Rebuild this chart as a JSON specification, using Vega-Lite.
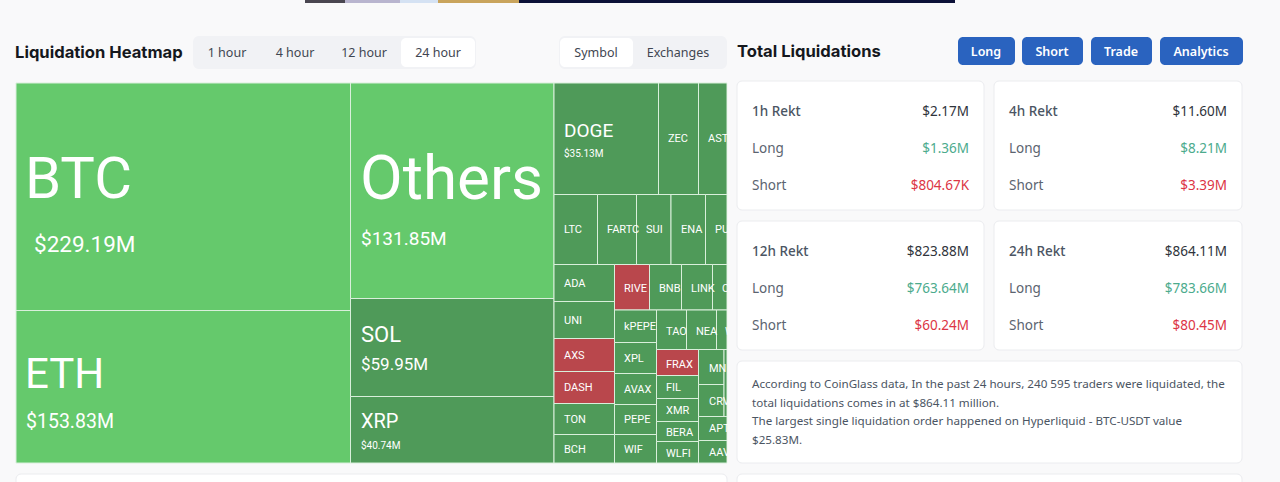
{
  "$schema": "https://vega.github.io/schema/vega-lite/v6.json",
  "width": 1280,
  "height": 482,
  "autosize": {"type": "fit", "contains": "padding"},
  "padding": 0,
  "background": "#f9f9fa",
  "config": {"view": {"stroke": null}},
  "datasets": {
    "banner": [
      {"part": "photo", "x0": 305, "x1": 345},
      {"part": "sky", "x0": 345, "x1": 400},
      {"part": "ice", "x0": 400, "x1": 438},
      {"part": "gold", "x0": 438, "x1": 519},
      {"part": "navy", "x0": 519, "x1": 955}
    ],
    "panels": [
      {"panel": "heatmap footer", "x0": 16, "x1": 727, "y0": 474, "y1": 500},
      {"panel": "1h", "x0": 737, "x1": 984, "y0": 81, "y1": 210},
      {"panel": "4h", "x0": 994, "x1": 1242, "y0": 81, "y1": 210},
      {"panel": "12h", "x0": 737, "x1": 984, "y0": 221, "y1": 350},
      {"panel": "24h", "x0": 994, "x1": 1242, "y0": 221, "y1": 350},
      {"panel": "summary", "x0": 737, "x1": 1242, "y0": 361, "y1": 463},
      {"panel": "next", "x0": 737, "x1": 1242, "y0": 474, "y1": 500}
    ],
    "tabgroups": [
      {"group": "period", "x0": 193, "x1": 476, "y0": 36, "y1": 69},
      {"group": "view", "x0": 559, "x1": 727, "y0": 36, "y1": 69}
    ],
    "activetabs": [
      {"tab": "24 hour", "x0": 401, "x1": 475, "y0": 38, "y1": 67},
      {"tab": "Symbol", "x0": 560, "x1": 633, "y0": 38, "y1": 67}
    ],
    "tablabels": [
      {"text": "1 hour", "x": 227, "y": 52},
      {"text": "4 hour", "x": 295, "y": 52},
      {"text": "12 hour", "x": 364, "y": 52},
      {"text": "24 hour", "x": 438, "y": 52},
      {"text": "Symbol", "x": 596, "y": 52},
      {"text": "Exchanges", "x": 678, "y": 52}
    ],
    "buttons": [
      {"text": "Long", "x0": 958, "x1": 1015, "y0": 37, "y1": 65, "x": 986, "y": 51},
      {"text": "Short", "x0": 1022, "x1": 1083, "y0": 37, "y1": 65, "x": 1052, "y": 51},
      {"text": "Trade", "x0": 1091, "x1": 1152, "y0": 37, "y1": 65, "x": 1121, "y": 51},
      {"text": "Analytics", "x0": 1160, "x1": 1243, "y0": 37, "y1": 65, "x": 1201, "y": 51}
    ],
    "titles": [
      {"text": "Liquidation Heatmap", "x": 15, "y": 52},
      {"text": "Total Liquidations", "x": 737, "y": 51}
    ],
    "cells": [
      {"symbol": "BTC", "band": "top", "x0": 16, "x1": 350.5, "y0": 83, "y1": 310.5},
      {"symbol": "ETH", "band": "top", "x0": 16, "x1": 350.5, "y0": 310.5, "y1": 463},
      {"symbol": "Others", "band": "top", "x0": 350.5, "x1": 554, "y0": 83, "y1": 298.5},
      {"symbol": "SOL", "band": "long", "x0": 350.5, "x1": 554, "y0": 298.5, "y1": 396.5},
      {"symbol": "XRP", "band": "long", "x0": 350.5, "x1": 554, "y0": 396.5, "y1": 463},
      {"symbol": "DOGE", "band": "long", "x0": 554, "x1": 658.5, "y0": 83, "y1": 194.5},
      {"symbol": "ZEC", "band": "long", "x0": 658.5, "x1": 698.5, "y0": 83, "y1": 194.5},
      {"symbol": "AST", "band": "long", "x0": 698.5, "x1": 727, "y0": 83, "y1": 194.5},
      {"symbol": "LTC", "band": "long", "x0": 554, "x1": 597.5, "y0": 194.5, "y1": 264.5},
      {"symbol": "FARTCOIN", "band": "long", "x0": 597.5, "x1": 636.5, "y0": 194.5, "y1": 264.5},
      {"symbol": "SUI", "band": "long", "x0": 636.5, "x1": 671, "y0": 194.5, "y1": 264.5},
      {"symbol": "ENA", "band": "long", "x0": 671, "x1": 705.5, "y0": 194.5, "y1": 264.5},
      {"symbol": "PUMP", "band": "long", "x0": 705.5, "x1": 727, "y0": 194.5, "y1": 264.5},
      {"symbol": "ADA", "band": "long", "x0": 554, "x1": 614.5, "y0": 264.5, "y1": 301.5},
      {"symbol": "UNI", "band": "long", "x0": 554, "x1": 614.5, "y0": 301.5, "y1": 338.5},
      {"symbol": "AXS", "band": "short", "x0": 554, "x1": 614.5, "y0": 338.5, "y1": 371.5},
      {"symbol": "DASH", "band": "short", "x0": 554, "x1": 614.5, "y0": 371.5, "y1": 403.5},
      {"symbol": "TON", "band": "long", "x0": 554, "x1": 614.5, "y0": 403.5, "y1": 434.5},
      {"symbol": "BCH", "band": "long", "x0": 554, "x1": 614.5, "y0": 434.5, "y1": 463},
      {"symbol": "RIVER", "band": "short", "x0": 614.5, "x1": 649.5, "y0": 264.5, "y1": 310},
      {"symbol": "BNB", "band": "long", "x0": 649.5, "x1": 681.5, "y0": 264.5, "y1": 310},
      {"symbol": "LINK", "band": "long", "x0": 681.5, "x1": 712.5, "y0": 264.5, "y1": 310},
      {"symbol": "C", "band": "long", "x0": 712.5, "x1": 727, "y0": 264.5, "y1": 310},
      {"symbol": "kPEPE", "band": "long", "x0": 614.5, "x1": 656.5, "y0": 310, "y1": 342.5},
      {"symbol": "XPL", "band": "long", "x0": 614.5, "x1": 656.5, "y0": 342.5, "y1": 373.5},
      {"symbol": "AVAX", "band": "long", "x0": 614.5, "x1": 656.5, "y0": 373.5, "y1": 404.5},
      {"symbol": "PEPE", "band": "long", "x0": 614.5, "x1": 656.5, "y0": 404.5, "y1": 434.5},
      {"symbol": "WIF", "band": "long", "x0": 614.5, "x1": 656.5, "y0": 434.5, "y1": 463},
      {"symbol": "TAO", "band": "long", "x0": 656.5, "x1": 686.5, "y0": 310, "y1": 349.5},
      {"symbol": "NEAR", "band": "long", "x0": 686.5, "x1": 716.5, "y0": 310, "y1": 349.5},
      {"symbol": "W", "band": "long", "x0": 716.5, "x1": 727, "y0": 310, "y1": 349.5},
      {"symbol": "FRAX", "band": "short", "x0": 656.5, "x1": 698.5, "y0": 349.5, "y1": 375.5},
      {"symbol": "FIL", "band": "long", "x0": 656.5, "x1": 698.5, "y0": 375.5, "y1": 398.5},
      {"symbol": "XMR", "band": "long", "x0": 656.5, "x1": 698.5, "y0": 398.5, "y1": 421.5},
      {"symbol": "BERA", "band": "long", "x0": 656.5, "x1": 698.5, "y0": 421.5, "y1": 441.5},
      {"symbol": "WLFI", "band": "long", "x0": 656.5, "x1": 698.5, "y0": 441.5, "y1": 463},
      {"symbol": "MNT", "band": "long", "x0": 698.5, "x1": 724, "y0": 349.5, "y1": 384.5},
      {"symbol": "CRV", "band": "long", "x0": 698.5, "x1": 724, "y0": 384.5, "y1": 416.5},
      {"symbol": "rest", "band": "long", "x0": 724, "x1": 727, "y0": 349.5, "y1": 416.5},
      {"symbol": "APT", "band": "long", "x0": 698.5, "x1": 727, "y0": 416.5, "y1": 440.5},
      {"symbol": "AAVE", "band": "long", "x0": 698.5, "x1": 727, "y0": 440.5, "y1": 463}
    ],
    "labels": [
      {"text": "BTC", "tier": "a", "x": 25, "y": 180},
      {"text": "$229.19M", "tier": "c", "x": 34, "y": 244},
      {"text": "ETH", "tier": "b", "x": 25, "y": 374},
      {"text": "$153.83M", "tier": "d", "x": 26, "y": 421},
      {"text": "Others", "tier": "o", "x": 360, "y": 179},
      {"text": "$131.85M", "tier": "g", "x": 361, "y": 238},
      {"text": "SOL", "tier": "e", "x": 361, "y": 334},
      {"text": "$59.95M", "tier": "h", "x": 361, "y": 364},
      {"text": "XRP", "tier": "f", "x": 361, "y": 421},
      {"text": "$40.74M", "tier": "k", "x": 361, "y": 445},
      {"text": "DOGE", "tier": "g", "x": 564, "y": 130},
      {"text": "$35.13M", "tier": "k", "x": 564, "y": 153},
      {"text": "ZEC", "tier": "m", "x": 668, "y": 138},
      {"text": "AST", "tier": "m", "x": 708, "y": 138},
      {"text": "LTC", "tier": "m", "x": 564, "y": 229},
      {"text": "FARTC", "tier": "m", "x": 607, "y": 229},
      {"text": "SUI", "tier": "m", "x": 646, "y": 229},
      {"text": "ENA", "tier": "m", "x": 681, "y": 229},
      {"text": "PU", "tier": "m", "x": 715, "y": 229},
      {"text": "ADA", "tier": "m", "x": 564, "y": 283},
      {"text": "UNI", "tier": "m", "x": 564, "y": 320},
      {"text": "AXS", "tier": "m", "x": 564, "y": 355},
      {"text": "DASH", "tier": "m", "x": 564, "y": 387},
      {"text": "TON", "tier": "m", "x": 564, "y": 419},
      {"text": "BCH", "tier": "m", "x": 564, "y": 449},
      {"text": "RIVE", "tier": "m", "x": 624, "y": 288},
      {"text": "BNB", "tier": "m", "x": 659, "y": 288},
      {"text": "LINK", "tier": "m", "x": 691, "y": 288},
      {"text": "C", "tier": "m", "x": 722, "y": 288},
      {"text": "kPEPE", "tier": "m", "x": 624, "y": 326},
      {"text": "XPL", "tier": "m", "x": 624, "y": 358},
      {"text": "AVAX", "tier": "m", "x": 624, "y": 389},
      {"text": "PEPE", "tier": "m", "x": 624, "y": 419},
      {"text": "WIF", "tier": "m", "x": 624, "y": 449},
      {"text": "TAO", "tier": "m", "x": 666, "y": 331},
      {"text": "NEA", "tier": "m", "x": 696, "y": 331},
      {"text": "W", "tier": "m", "x": 725, "y": 331},
      {"text": "FRAX", "tier": "m", "x": 666, "y": 364},
      {"text": "FIL", "tier": "m", "x": 666, "y": 387},
      {"text": "XMR", "tier": "m", "x": 666, "y": 410},
      {"text": "BERA", "tier": "m", "x": 666, "y": 432},
      {"text": "WLFI", "tier": "m", "x": 666, "y": 453},
      {"text": "MN", "tier": "m", "x": 709, "y": 368},
      {"text": "CRV", "tier": "m", "x": 709, "y": 401},
      {"text": "APT", "tier": "m", "x": 709, "y": 428},
      {"text": "AAV", "tier": "m", "x": 709, "y": 452}
    ],
    "gutter": [
      {"x0": 727.5, "x1": 736, "y0": 83, "y1": 463}
    ],
    "heads": [
      {"text": "1h Rekt", "x": 752, "y": 111},
      {"text": "4h Rekt", "x": 1009, "y": 111},
      {"text": "12h Rekt", "x": 752, "y": 251},
      {"text": "24h Rekt", "x": 1009, "y": 251}
    ],
    "rowlabels": [
      {"text": "Long", "x": 752, "y": 148},
      {"text": "Short", "x": 752, "y": 185},
      {"text": "Long", "x": 1009, "y": 148},
      {"text": "Short", "x": 1009, "y": 185},
      {"text": "Long", "x": 752, "y": 288},
      {"text": "Short", "x": 752, "y": 325},
      {"text": "Long", "x": 1009, "y": 288},
      {"text": "Short", "x": 1009, "y": 325}
    ],
    "amounts": [
      {"text": "$2.17M", "side": "total", "x": 969, "y": 111},
      {"text": "$1.36M", "side": "long", "x": 969, "y": 148},
      {"text": "$804.67K", "side": "short", "x": 969, "y": 185},
      {"text": "$11.60M", "side": "total", "x": 1227, "y": 111},
      {"text": "$8.21M", "side": "long", "x": 1227, "y": 148},
      {"text": "$3.39M", "side": "short", "x": 1227, "y": 185},
      {"text": "$823.88M", "side": "total", "x": 969, "y": 251},
      {"text": "$763.64M", "side": "long", "x": 969, "y": 288},
      {"text": "$60.24M", "side": "short", "x": 969, "y": 325},
      {"text": "$864.11M", "side": "total", "x": 1227, "y": 251},
      {"text": "$783.66M", "side": "long", "x": 1227, "y": 288},
      {"text": "$80.45M", "side": "short", "x": 1227, "y": 325}
    ],
    "summary": [
      {"text": "According to CoinGlass data, In the past 24 hours, 240 595 traders were liquidated, the", "x": 752, "y": 384},
      {"text": "total liquidations comes in at $864.11 million.", "x": 752, "y": 403},
      {"text": "The largest single liquidation order happened on Hyperliquid - BTC-USDT value", "x": 752, "y": 421},
      {"text": "$25.83M.", "x": 752, "y": 440}
    ]
  },
  "layer": [
    {
      "data": {"name": "banner"},
      "mark": {"type": "rect", "clip": true},
      "encoding": {
        "x": {"field": "x0", "type": "quantitative", "scale": {"domain": [0, 1280], "nice": false}, "axis": null},
        "x2": {"field": "x1"},
        "y": {"datum": 0, "type": "quantitative", "scale": {"domain": [482, 0], "nice": false}, "axis": null},
        "y2": {"datum": 3},
        "color": {"field": "part", "type": "nominal", "legend": null, "scale": {"domain": ["photo", "sky", "ice", "gold", "navy"], "range": ["#4a4650", "#b9b5cf", "#d5e2f3", "#c9a45c", "#0c1138"]}}
      }
    },
    {
      "data": {"name": "panels"},
      "mark": {"type": "rect", "clip": true, "fill": "#ffffff", "stroke": "#ebecef", "strokeWidth": 1, "cornerRadius": 5},
      "encoding": {
        "x": {"field": "x0", "type": "quantitative", "axis": null},
        "x2": {"field": "x1"},
        "y": {"field": "y0", "type": "quantitative", "axis": null},
        "y2": {"field": "y1"}
      }
    },
    {
      "data": {"name": "tabgroups"},
      "mark": {"type": "rect", "fill": "#f1f2f5", "cornerRadius": 6},
      "encoding": {
        "x": {"field": "x0", "type": "quantitative", "axis": null},
        "x2": {"field": "x1"},
        "y": {"field": "y0", "type": "quantitative", "axis": null},
        "y2": {"field": "y1"}
      }
    },
    {
      "data": {"name": "activetabs"},
      "mark": {"type": "rect", "fill": "#ffffff", "cornerRadius": 5},
      "encoding": {
        "x": {"field": "x0", "type": "quantitative", "axis": null},
        "x2": {"field": "x1"},
        "y": {"field": "y0", "type": "quantitative", "axis": null},
        "y2": {"field": "y1"}
      }
    },
    {
      "data": {"name": "tablabels"},
      "mark": {"type": "text", "font": "Noto Sans", "fontSize": 12.5, "color": "#3f4651", "align": "center", "baseline": "middle", "yOffset": 1},
      "encoding": {
        "x": {"field": "x", "type": "quantitative", "axis": null},
        "y": {"field": "y", "type": "quantitative", "axis": null},
        "text": {"field": "text"}
      }
    },
    {
      "data": {"name": "buttons"},
      "mark": {"type": "rect", "fill": "#2a63bf", "cornerRadius": 5},
      "encoding": {
        "x": {"field": "x0", "type": "quantitative", "axis": null},
        "x2": {"field": "x1"},
        "y": {"field": "y0", "type": "quantitative", "axis": null},
        "y2": {"field": "y1"}
      }
    },
    {
      "data": {"name": "buttons"},
      "mark": {"type": "text", "font": "Noto Sans", "fontSize": 12.5, "fontWeight": 600, "color": "#ffffff", "align": "center", "baseline": "middle", "yOffset": 1},
      "encoding": {
        "x": {"field": "x", "type": "quantitative", "axis": null},
        "y": {"field": "y", "type": "quantitative", "axis": null},
        "text": {"field": "text"}
      }
    },
    {
      "data": {"name": "titles"},
      "mark": {"type": "text", "font": "Inter", "fontSize": 16.6, "fontWeight": 700, "color": "#15181d", "align": "left", "baseline": "middle", "yOffset": 1},
      "encoding": {
        "x": {"field": "x", "type": "quantitative", "axis": null},
        "y": {"field": "y", "type": "quantitative", "axis": null},
        "text": {"field": "text"}
      }
    },
    {
      "data": {"name": "cells"},
      "mark": {"type": "rect", "stroke": "#d9efdb", "strokeWidth": 1},
      "encoding": {
        "x": {"field": "x0", "type": "quantitative", "axis": null},
        "x2": {"field": "x1"},
        "y": {"field": "y0", "type": "quantitative", "axis": null},
        "y2": {"field": "y1"},
        "color": {"field": "band", "type": "nominal", "legend": null, "scale": {"domain": ["top", "long", "short"], "range": ["#65c96c", "#4f9a59", "#b9474c"]}}
      }
    },
    {
      "data": {"name": "labels"},
      "mark": {"type": "text", "font": "Roboto", "color": "#ffffff", "align": "left", "baseline": "middle", "yOffset": 1},
      "encoding": {
        "x": {"field": "x", "type": "quantitative", "axis": null},
        "y": {"field": "y", "type": "quantitative", "axis": null},
        "text": {"field": "text"},
        "size": {"field": "tier", "type": "nominal", "legend": null, "scale": {"type": "ordinal", "domain": ["a", "o", "b", "c", "d", "e", "f", "g", "h", "k", "m"], "range": [58, 62, 42, 22.5, 19.5, 22, 20, 19, 17, 10, 11]}}
      }
    },
    {
      "data": {"name": "gutter"},
      "mark": {"type": "rect", "fill": "#f9f9fa"},
      "encoding": {
        "x": {"field": "x0", "type": "quantitative", "axis": null},
        "x2": {"field": "x1"},
        "y": {"field": "y0", "type": "quantitative", "axis": null},
        "y2": {"field": "y1"}
      }
    },
    {
      "data": {"name": "heads"},
      "mark": {"type": "text", "font": "Noto Sans", "fontSize": 13.5, "fontWeight": 500, "color": "#4b5563", "align": "left", "baseline": "middle", "yOffset": 1},
      "encoding": {
        "x": {"field": "x", "type": "quantitative", "axis": null},
        "y": {"field": "y", "type": "quantitative", "axis": null},
        "text": {"field": "text"}
      }
    },
    {
      "data": {"name": "rowlabels"},
      "mark": {"type": "text", "font": "Noto Sans", "fontSize": 13.5, "color": "#5b6470", "align": "left", "baseline": "middle", "yOffset": 1},
      "encoding": {
        "x": {"field": "x", "type": "quantitative", "axis": null},
        "y": {"field": "y", "type": "quantitative", "axis": null},
        "text": {"field": "text"}
      }
    },
    {
      "data": {"name": "amounts"},
      "mark": {"type": "text", "font": "Noto Sans", "fontSize": 13.5, "align": "right", "baseline": "middle", "yOffset": 1},
      "encoding": {
        "x": {"field": "x", "type": "quantitative", "axis": null},
        "y": {"field": "y", "type": "quantitative", "axis": null},
        "text": {"field": "text"},
        "color": {"field": "side", "type": "nominal", "legend": null, "scale": {"domain": ["total", "long", "short"], "range": ["#2f343b", "#4cab8d", "#dc3545"]}}
      }
    },
    {
      "data": {"name": "summary"},
      "mark": {"type": "text", "font": "Noto Sans", "fontSize": 11.65, "color": "#4b5563", "align": "left", "baseline": "middle", "yOffset": 1},
      "encoding": {
        "x": {"field": "x", "type": "quantitative", "axis": null},
        "y": {"field": "y", "type": "quantitative", "axis": null},
        "text": {"field": "text"}
      }
    }
  ],
  "resolve": {"scale": {"color": "independent"}}
}
